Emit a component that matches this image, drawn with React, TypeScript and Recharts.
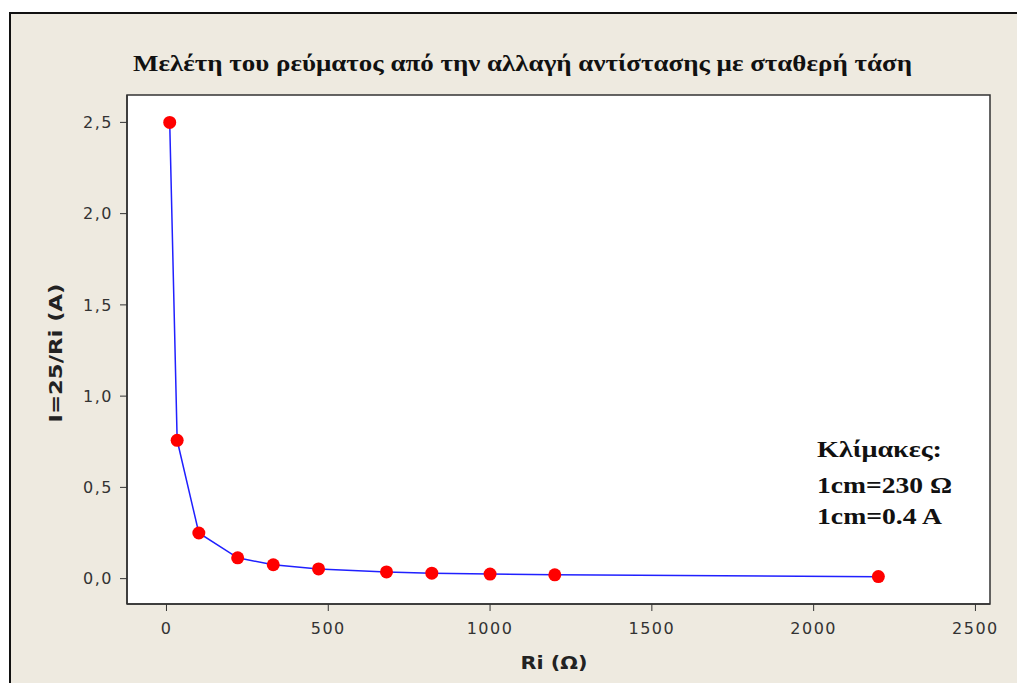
import React from 'react';
import { LineChart, Line, XAxis, YAxis, ReferenceArea } from 'recharts';

const resistances = [10, 33, 100, 220, 330, 470, 680, 820, 1000, 1200, 2200];
const currents = [2.5, 0.758, 0.25, 0.114, 0.076, 0.053, 0.037, 0.03, 0.025, 0.021, 0.011];
const xTicks = [0, 500, 1000, 1500, 2000, 2500];
const yTicks = [0, 0.5, 1, 1.5, 2, 2.5];
const titleText = 'Μελέτη του ρεύματος από την αλλαγή αντίστασης με σταθερή τάση';
const xLabel = 'Ri (Ω)';
const yLabel = 'I=25/Ri (A)';
const noteLines = ['Κλίμακες:', '1cm=230 Ω', '1cm=0.4 A'];

const data = resistances.map((r, i) => ({ r, i: currents[i] }));

const X_DOMAIN: [number, number] = [-122, 2545];
const Y_DOMAIN: [number, number] = [-0.139, 2.65];

const tickStyle = { fontSize: 16, fontFamily: 'DejaVu Sans', fill: '#333', letterSpacing: 1.5 };

export default function App() {
  return (
    <div style={{ position: 'relative', margin: -8, width: 1025, height: 691, background: '#fff', overflow: 'hidden' }}>
      <div
        style={{
          position: 'absolute',
          left: 9,
          top: 12,
          width: 1016,
          height: 679,
          boxSizing: 'border-box',
          background: '#EEEAE0',
          borderTop: '2px solid #111',
          borderLeft: '2px solid #111',
        }}
      />
      <div style={{ position: 'absolute', left: 0, top: 0 }}>
        <LineChart width={1025} height={691} data={data} margin={{ top: 95, right: 35, bottom: 37, left: 67 }}>
          <ReferenceArea
            x1={X_DOMAIN[0]}
            x2={X_DOMAIN[1]}
            y1={Y_DOMAIN[0]}
            y2={Y_DOMAIN[1]}
            fill="#fff"
            fillOpacity={1}
            stroke="#333"
            strokeWidth={1.5}
            ifOverflow="extendDomain"
          />
          <XAxis
            dataKey="r"
            type="number"
            domain={X_DOMAIN}
            ticks={xTicks}
            allowDataOverflow
            height={50}
            tickSize={7}
            tickMargin={12}
            axisLine={{ stroke: '#333', strokeWidth: 1.5 }}
            tickLine={{ stroke: '#333' }}
            tick={tickStyle}
          />
          <YAxis
            type="number"
            domain={Y_DOMAIN}
            ticks={yTicks}
            allowDataOverflow
            width={60}
            tickSize={7}
            tickMargin={7}
            axisLine={{ stroke: '#333', strokeWidth: 1.5 }}
            tickLine={{ stroke: '#333' }}
            tick={tickStyle}
            tickFormatter={(v: number) => v.toFixed(1).replace('.', ',')}
          />
          <Line
            dataKey="i"
            type="linear"
            stroke="#2020FF"
            strokeWidth={1.5}
            dot={{ r: 6.5, fill: '#FF0000', stroke: 'none' }}
            isAnimationActive={false}
          />
        </LineChart>
      </div>
      <svg
        width={1025}
        height={691}
        style={{ position: 'absolute', left: 0, top: 0, pointerEvents: 'none' }}
      >
        <text
          x={133}
          y={71}
          textLength={779}
          lengthAdjust="spacingAndGlyphs"
          fontFamily="Liberation Serif"
          fontWeight="bold"
          fontSize={23}
          fill="#111"
        >
          {titleText}
        </text>
        <text
          transform="translate(62,353) rotate(-90)"
          textAnchor="middle"
          textLength={139}
          lengthAdjust="spacingAndGlyphs"
          fontFamily="DejaVu Sans"
          fontWeight="bold"
          fontSize={17}
          fill="#222"
        >
          {yLabel}
        </text>
        <text
          x={554}
          y={669}
          textAnchor="middle"
          textLength={67}
          lengthAdjust="spacingAndGlyphs"
          fontFamily="DejaVu Sans"
          fontWeight="bold"
          fontSize={17}
          fill="#222"
        >
          {xLabel}
        </text>
        {noteLines.map((t, k) => (
          <text
            key={k}
            x={817}
            y={[457, 493, 524][k]}
            textLength={[125, 135, 125][k]}
            lengthAdjust="spacingAndGlyphs"
            fontFamily="Liberation Serif"
            fontWeight="bold"
            fontSize={23}
            fill="#111"
          >
            {t}
          </text>
        ))}
      </svg>
    </div>
  );
}
